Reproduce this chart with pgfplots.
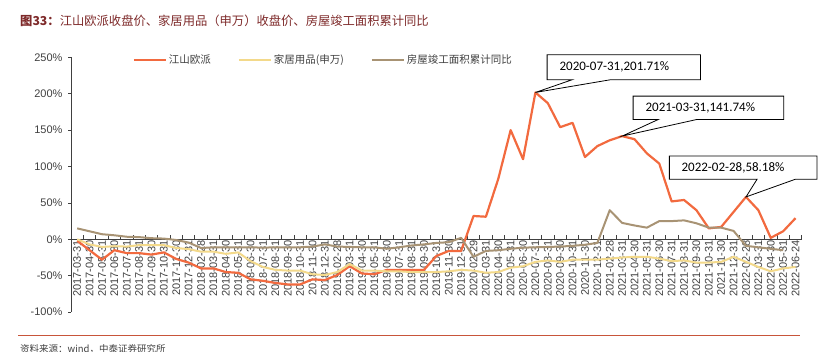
\documentclass[border=0pt]{standalone}
\usepackage{fontspec}
\setmainfont{Liberation Sans}
\newfontfamily\cjk{Noto Sans CJK SC}
\newfontfamily\calib{Carlito}
\usepackage{pgfplots}
\pgfplotsset{compat=1.18}
\usepackage{pgfplotstable}
\usetikzlibrary{calc}
\definecolor{cOrange}{HTML}{F26A3F}
\definecolor{cYellow}{HTML}{F3D98A}
\definecolor{cGray}{HTML}{A89374}
\definecolor{cTitle}{HTML}{7E2A2A}
\definecolor{cText}{HTML}{404040}
\definecolor{cRule}{HTML}{C8553A}

\pgfplotstableread{
idx orange yellow gray
0 -2 0 15
1 -15 -7 11
2 -28 -10.5 7
3 -15 -9.5 5.5
4 -19 -10 3.5
5 -19 -8 3
6 -21 -8 1.5
7 -18 -8 1
8 -27 -12 -1
9 -32 -13.5 -4.5
10 -40 -17 -12
11 -40 -17 -11
12 -45 -20 -11
13 -46 -18 -11
14 -55 -30 -11
15 -57 -38 -11.5
16 -60 -42 -11
17 -62 -43 -11
18 -62 -43 -11
19 -55 -48 -10
20 -56 -49 -7
21 -49 -45 -10
22 -37 -34 -10.5
23 -47 -43 -11
24 -48 -43 -11
25 -42 -44 -13
26 -42 -44 -11
27 -42 -45 -8.5
28 -42 -45 -7
29 -23 -45 -5
30 -16 -44 -4
31 -16 -42 2
32 32 -43 -24
33 31 -46 -16
34 83 -45 -15
35 150 -39 -13
36 110 -37 -11.5
37 201.71 -31 -11
38 187 -29 -10.5
39 154 -31 -10
40 160 -28 -9
41 113 -28 -7.5
42 128 -28 -5
43 136 -26.5 40
44 141.74 -25 22.5
45 137.5 -24 19
46 118 -24 16
47 104 -26.5 25
48 52 -30 25
49 54 -29 26
50 40 -32 22
51 15 -32 16
52 17 -31 16
53 37.6 -24 11.5
54 58.18 -31 -9
55 40 -38 -11
56 2 -44 -13
57 11 -40 -15
58 29 -38 nan
}\data

\pgfplotsset{
  basegeom/.style={
    at={(71pt,39.9pt)}, anchor=south west,
    scale only axis, width=730.7pt, height=254.8pt,
    xmin=-0.5, xmax=58.5, ymin=-100, ymax=250,
    axis x line=middle, axis y line=left,
    hide obscured x ticks=false, hide obscured y ticks=false,
    clip=false, tick align=inside,
    xtick={0,...,58},
  }
}

\begin{document}
\begin{tikzpicture}
\path[use as bounding box] (0,0) rectangle (818pt,352pt);
\node[anchor=west, inner sep=0, font=\cjk\fontsize{12.3}{12.3}\selectfont, text=cTitle] at (20pt,331.3pt) {{\bfseries 图33：}江山欧派收盘价、家居用品（申万）收盘价、房屋竣工面积累计同比};
% layer 1: x tick labels only (drawn beneath the series)
\begin{axis}[
  basegeom,
  axis line style={draw=none},
  ytick=\empty,
  major x tick style={draw=none},
  xticklabels={2017-03-31,2017-04-30,2017-05-31,2017-06-30,2017-07-31,2017-08-31,2017-09-30,2017-10-31,2017-11-30,2017-12-31,2018-02-28,2018-03-31,2018-04-30,2018-05-31,2018-06-30,2018-07-31,2018-08-31,2018-09-30,2018-10-31,2018-11-30,2018-12-31,2019-02-28,2019-03-31,2019-04-30,2019-05-31,2019-06-30,2019-07-31,2019-08-31,2019-09-30,2019-10-31,2019-11-30,2019-12-31,2020-02-29,2020-03-31,2020-04-30,2020-05-31,2020-06-30,2020-07-31,2020-08-31,2020-09-30,2020-10-31,2020-11-30,2020-12-31,2021-02-28,2021-03-31,2021-04-30,2021-05-31,2021-06-30,2021-07-31,2021-08-31,2021-09-30,2021-10-31,2021-11-30,2021-12-31,2022-02-28,2022-03-31,2022-04-30,2022-05-31,2022-06-24},
  xticklabel style={rotate=90, anchor=east, inner sep=1pt, font=\fontsize{11}{11}\selectfont, text=cText},
]
\addplot[draw=none, no markers] coordinates {(0,0)};
\end{axis}
% layer 2: axes and series
\begin{axis}[
  basegeom,
  axis line style={-, draw=black!75, line width=0.8pt},
  xticklabels={},
  major x tick style={draw=none},
  minor xtick={-0.5,0.5,...,58.5},
  minor x tick style={draw=black!75, line width=0.7pt},
  minor tick length=4pt,
  ytick={-100,-50,0,50,100,150,200,250},
  yticklabel={\pgfmathprintnumber{\tick}\%},
  major y tick style={draw=black!75, line width=0.7pt, xshift=-3pt},
  major tick length=3pt,
  yticklabel style={font=\fontsize{11}{11}\selectfont, text=cText, xshift=-5pt},
  /pgf/number format/assume math mode=true,
  legend columns=3,
  legend style={at={(0.08,0.99)}, anchor=west, draw=none, fill=none,
    font=\cjk\fontsize{10.5}{12}\selectfont, text=cText,
    /tikz/every even column/.append style={column sep=25pt}},
  legend image code/.code={\draw[#1] (0pt,0pt) -- (32pt,0pt);},
]
\addplot[cOrange, line width=2.2pt, line join=round, no markers] table[x=idx,y=orange]{\data};
\addlegendentry{江山欧派}
\addplot[cYellow, line width=2pt, line join=round, no markers] table[x=idx,y=yellow]{\data};
\addlegendentry{家居用品(申万)}
\addplot[cGray, line width=2pt, line join=round, no markers] table[x=idx,y=gray]{\data};
\addlegendentry{房屋竣工面积累计同比}
\coordinate (T1) at (axis cs:37,201.71);
\coordinate (T2) at (axis cs:44,141.74);
\coordinate (T3) at (axis cs:54,58.18);
\end{axis}
\draw[black, line width=0.8pt, fill=white] (T1) -- ($(T1)+(36.7pt,12.7pt)$) -- ($(T1)+(11.7pt,12.7pt)$) -- ($(T1)+(11.7pt,37.7pt)$) -- ($(T1)+(165pt,37.7pt)$) -- ($(T1)+(165pt,12.7pt)$) -- ($(T1)+(75pt,12.7pt)$) -- cycle;
\node[anchor=west, inner sep=0, font=\calib\fontsize{13}{13}\selectfont] at ($(T1)+(24pt,25.4pt)$) {2020-07-31,201.71\%};
\draw[black, line width=0.8pt, fill=white] (T2) -- ($(T2)+(36.3pt,16.7pt)$) -- ($(T2)+(11pt,16.7pt)$) -- ($(T2)+(11pt,40pt)$) -- ($(T2)+(161.6pt,40pt)$) -- ($(T2)+(161.6pt,16.7pt)$) -- ($(T2)+(75pt,16.7pt)$) -- cycle;
\node[anchor=west, inner sep=0, font=\calib\fontsize{13}{13}\selectfont] at ($(T2)+(23.3pt,28.4pt)$) {2021-03-31,141.74\%};
\draw[black, line width=0.8pt, fill=white] (T3) -- ($(T3)+(11.1pt,17.7pt)$) -- ($(T3)+(-76.6pt,17.7pt)$) -- ($(T3)+(-76.6pt,41pt)$) -- ($(T3)+(71pt,41pt)$) -- ($(T3)+(71pt,17.7pt)$) -- ($(T3)+(49.4pt,17.7pt)$) -- cycle;
\node[anchor=west, inner sep=0, font=\calib\fontsize{13}{13}\selectfont] at ($(T3)+(-64.6pt,29.4pt)$) {2022-02-28,58.18\%};
\draw[cRule, line width=1pt] (18pt,16pt) -- (800pt,16pt);
\node[anchor=west, inner sep=0, font=\cjk\fontsize{9.5}{9.5}\selectfont, text=cText] at (20pt,3pt) {资料来源：wind，中泰证券研究所};
\end{tikzpicture}
\end{document}
